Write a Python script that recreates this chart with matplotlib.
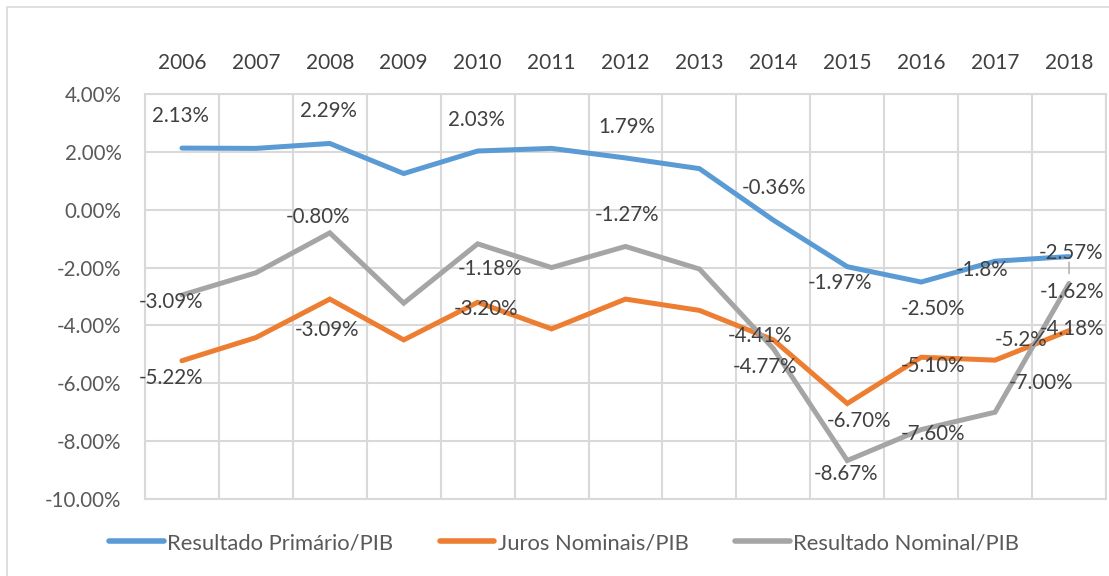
import matplotlib
matplotlib.use("Agg")
import matplotlib.pyplot as plt
from matplotlib.patches import Rectangle
from matplotlib.ticker import FuncFormatter, MultipleLocator
import numpy as np

# ---------------- data ----------------
years = ["2006", "2007", "2008", "2009", "2010", "2011", "2012",
         "2013", "2014", "2015", "2016", "2017", "2018"]

primario = [2.13, 2.12, 2.29, 1.25, 2.03, 2.12, 1.79, 1.42, -0.36, -1.97, -2.50, -1.78, -1.62]
juros = [-5.22, -4.42, -3.09, -4.50, -3.20, -4.12, -3.09, -3.48, -4.50, -6.70, -5.10, -5.20, -4.18]
nominal = [-2.95, -2.18, -0.80, -3.23, -1.18, -2.00, -1.27, -2.05, -4.80, -8.67, -7.60, -7.00, -2.55]

primario_labels = ["2.13%", None, "2.29%", None, "2.03%", None, "1.79%", None,
                   "-0.36%", "-1.97%", "-2.50%", "-1.8%", "-2.57%"]
juros_labels = ["-5.22%", None, "-3.09%", None, "-3.20%", None, None, None,
                "-4.41%", "-6.70%", "-5.10%", "-5.2%", "-4.18%"]
nominal_labels = ["-3.09%", None, "-0.80%", None, "-1.18%", None, "-1.27%", None,
                  "-4.77%", "-8.67%", "-7.60%", "-7.00%", "-1.62%"]

series_names = ["Resultado Primário/PIB", "Juros Nominais/PIB", "Resultado Nominal/PIB"]

# ---------------- style / layout ----------------
colors = ["#5B9BD5", "#ED7D31", "#A5A5A5"]
# label offsets in pixels (dx right, dy down)
primario_off = [(-2, -32), None, (-1, -32), None, (-1, -31), None, (1, -31), None,
                (1, -32), (-7, 16), (12, 27), (-13, 9), (2, -4)]
juros_off = [(-11, 17), None, (-3, 31), None, (8, 7), None, None, None,
             (-13, -4), (12, 17), (12, 9), (26, -20), (3, -2)]
nominal_off = [(-11, 7), None, (-12, -16), None, (12, 25), None, (1, -31), None,
               (-8, 18), (-1, 13), (12, 4), (46, -29), (3, 9)]

FONT = ["Lato", "DejaVu Sans"]
plt.rcParams["font.family"] = FONT

W, H = 1109, 576
fig = plt.figure(figsize=(W / 100, H / 100), dpi=100)

# chart border (left and top visible)
fig.patches.append(Rectangle((7 / W, -0.01), 1.02, (576 - 7) / H + 0.01,
                             transform=fig.transFigure, fill=False,
                             edgecolor="#D9D9D9", linewidth=1.2))

left, right, top, bottom = 145, 1106, 94, 499
ax = fig.add_axes([left / W, 1 - bottom / H, (right - left) / W, (bottom - top) / H])

x = np.arange(len(years))
all_series = [primario, juros, nominal]
all_labels = [primario_labels, juros_labels, nominal_labels]
all_offs = [primario_off, juros_off, nominal_off]

for vals, c, name in zip(all_series, colors, series_names):
    ax.plot(x, vals, color=c, lw=3.6, solid_capstyle="round",
            solid_joinstyle="miter", label=name, zorder=3)

for vals, labs, offs in zip(all_series, all_labels, all_offs):
    for i, (v, lab, off) in enumerate(zip(vals, labs, offs)):
        if lab is None:
            continue
        ax.annotate(lab, (x[i], v), xytext=(off[0], -off[1]),
                    textcoords="offset pixels", ha="center", va="center",
                    fontsize=14.8, color="#404040", zorder=5)

# leader line for last blue label
ax.annotate("", xy=(x[-1], primario[-1]), xytext=(0, -17),
            textcoords="offset pixels",
            arrowprops=dict(arrowstyle="-", color="#A6A6A6", lw=1,
                            shrinkA=0, shrinkB=4), zorder=4)

ax.set_xlim(-0.5, len(years) - 0.5)
ax.set_ylim(-10, 4)
ax.yaxis.set_major_locator(MultipleLocator(2))
ax.yaxis.set_major_formatter(FuncFormatter(lambda v, p: f"{v:.2f}%"))

ax.set_xticks(x)
ax.set_xticklabels(years)
ax.xaxis.tick_top()
ax.set_xticks(np.arange(len(years) + 1) - 0.5, minor=True)
ax.tick_params(axis="x", which="both", length=0, pad=15, labelsize=15,
               labelcolor="#404040")
ax.tick_params(axis="y", length=0, pad=17, labelsize=14.8, labelcolor="#595959")

ax.grid(True, axis="y", which="major", color="#D9D9D9", lw=1.5, zorder=0)
ax.grid(True, axis="x", which="minor", color="#D9D9D9", lw=1.5, zorder=0)
ax.grid(False, axis="x", which="major")
for s in ax.spines.values():
    s.set_color("#D9D9D9")
    s.set_linewidth(1.5)

leg = fig.legend(loc="center", bbox_to_anchor=(564 / W, 1 - 543 / H),
                 ncol=3, frameon=False, fontsize=15.8, handlelength=2.5,
                 handletextpad=0.15, columnspacing=2.1, labelcolor="#595959")
for ln in leg.get_lines():
    ln.set_linewidth(4)
    ln.set_solid_capstyle("round")

fig.savefig("out.png", dpi=100)
